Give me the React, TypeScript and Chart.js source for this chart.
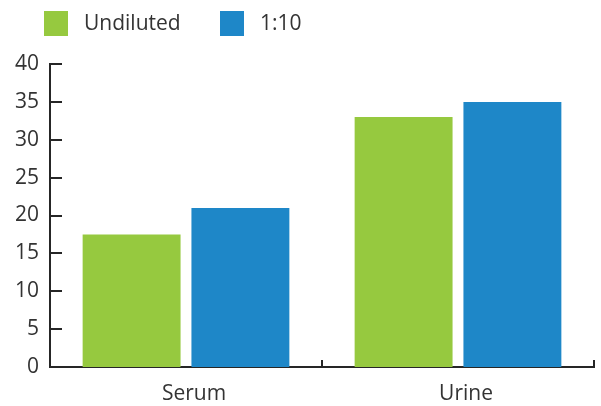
import React, { useEffect, useRef } from "react";
import { Chart, registerables } from "chart.js";

Chart.register(...registerables);

const categories = ["Serum", "Urine"];
const seriesNames = ["Undiluted", "1:10"];
const undilutedValues = [17.5, 33];
const dilutedValues = [21, 35];
const seriesColors = ["#96c93f", "#1e87c8"];
const yMin = 0;
const yMax = 40;
const yStep = 5;

const FONT = "'Open Sans', 'Noto Sans', sans-serif";
const TEXT_COLOR = "#333333";
const AXIS_COLOR = "#262626";

const decorPlugin = {
  id: "decor",
  afterDraw(chart: any) {
    const { ctx, chartArea, scales } = chart;
    const ys = scales.y;
    const xs = scales.x;
    ctx.save();
    ctx.strokeStyle = AXIS_COLOR;
    ctx.lineWidth = 2;
    ys.ticks.forEach((t: any) => {
      const py = Math.round(ys.getPixelForValue(t.value));
      ctx.beginPath();
      ctx.moveTo(chartArea.left, py);
      ctx.lineTo(chartArea.left + 12, py);
      ctx.stroke();
    });
    for (let i = 1; i <= categories.length; i++) {
      const px = Math.round(xs.getPixelForValue(i - 0.5));
      ctx.beginPath();
      ctx.moveTo(px, chartArea.bottom);
      ctx.lineTo(px, chartArea.bottom - 7);
      ctx.stroke();
    }
    // legend
    const boxX = [44, 220];
    ctx.font = `21px ${FONT}`;
    ctx.textBaseline = "middle";
    ctx.textAlign = "left";
    seriesNames.forEach((name, i) => {
      ctx.fillStyle = seriesColors[i];
      ctx.fillRect(boxX[i], 11, 24, 25);
      ctx.fillStyle = TEXT_COLOR;
      ctx.fillText(name, boxX[i] + 40, 24);
    });
    ctx.restore();
  },
};

export default function App() {
  const ref = useRef<HTMLCanvasElement | null>(null);
  useEffect(() => {
    if (!ref.current) return;
    const chart = new Chart(ref.current, {
      type: "bar",
      data: {
        labels: categories,
        datasets: [
          { label: seriesNames[0], data: undilutedValues, backgroundColor: seriesColors[0] },
          { label: seriesNames[1], data: dilutedValues, backgroundColor: seriesColors[1] },
        ],
      },
      options: {
        animation: false,
        responsive: false,
        maintainAspectRatio: false,
        layout: { padding: { top: 64, right: 7, left: 0, bottom: 0 } },
        plugins: {
          legend: { display: false },
          tooltip: { enabled: false },
        },
        scales: {
          x: {
            offset: true,
            grid: { display: false, drawOnChartArea: false, drawTicks: false },
            border: { display: true, color: AXIS_COLOR, width: 2 },
            ticks: { color: TEXT_COLOR, font: { family: FONT, size: 21 }, padding: 14, labelOffset: 8 },
            afterFit: (s: any) => { s.height = 39; },
          },
          y: {
            min: yMin,
            max: yMax,
            grid: { display: false, drawOnChartArea: false, drawTicks: false },
            border: { display: true, color: AXIS_COLOR, width: 2 },
            ticks: { stepSize: yStep, color: TEXT_COLOR, font: { family: FONT, size: 21 }, padding: 11 },
            afterFit: (s: any) => { s.width = 50; },
          },
        },
      },
      plugins: [decorPlugin],
    });
    return () => chart.destroy();
  }, []);
  return (
    <div style={{ position: "fixed", left: 0, top: 0, width: 601, height: 406, background: "#fff" }}>
      <canvas ref={ref} width={601} height={406} style={{ width: 601, height: 406, display: "block" }} />
    </div>
  );
}
